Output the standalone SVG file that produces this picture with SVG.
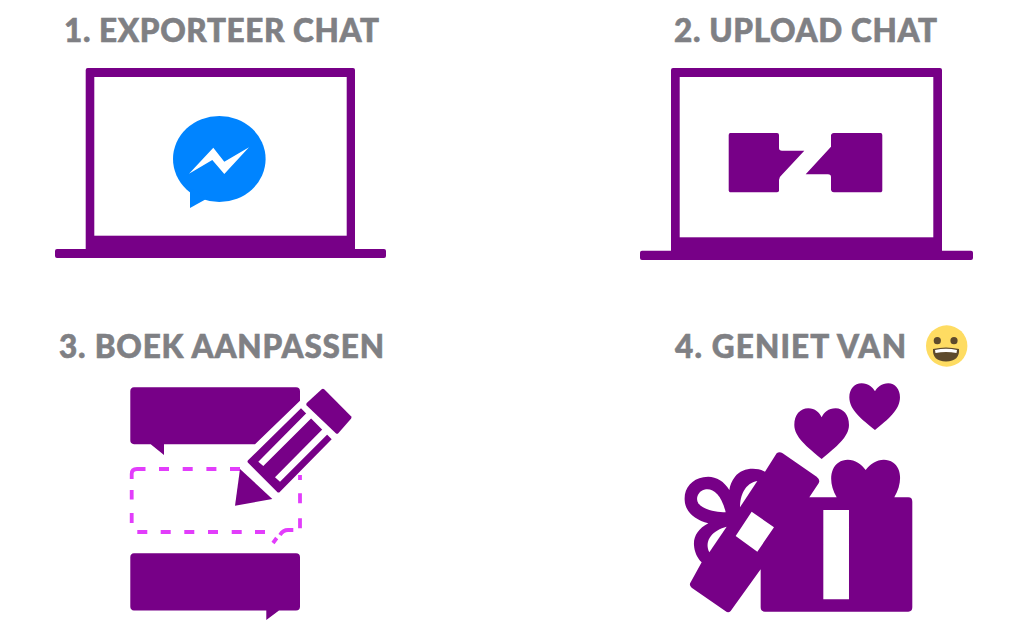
<svg xmlns="http://www.w3.org/2000/svg" width="1030" height="627" viewBox="0 0 1030 627">
<style>
.t{font-family:Lato,"Liberation Sans",sans-serif;font-weight:900;font-size:31.500px;fill:#7f8084;stroke:#7f8084;stroke-width:.6}
.p{fill:#770087}
.w{fill:#fff}
.d{fill:none;stroke:#e23dfb;stroke-width:3.800}
</style>
<rect width="1030" height="627" fill="#fff"/>
<g id="step1">
<text class="t" x="64" y="42" textLength="315" lengthAdjust="spacing">1. EXPORTEER CHAT</text>
<path class="p" d="M85.700 70a2 2 0 0 1 2-2H353a2 2 0 0 1 2 2V249H384a2 2 0 0 1 2 2V256a2 2 0 0 1-2 2H57a2 2 0 0 1-2-2V251a2 2 0 0 1 2-2H85.700Z"/>
<rect class="w" x="94.300" y="77" width="252.400" height="158.700"/>
<ellipse cx="219.300" cy="159" rx="46.300" ry="43" fill="#0084ff"/>
<path fill="#0084ff" d="M190 188V208L208 198Z"/>
<path class="w" d="M189 173.700L213.300 147.700L224.300 161.700L249 147.300L224.300 174L212.300 160Z"/>
</g>
<g id="step2">
<text class="t" x="674" y="42" textLength="263" lengthAdjust="spacing">2. UPLOAD CHAT</text>
<path class="p" d="M671 70a2 2 0 0 1 2-2H940a2 2 0 0 1 2 2V250.700H971a2 2 0 0 1 2 2V258a2 2 0 0 1-2 2H642a2 2 0 0 1-2-2V252.700a2 2 0 0 1 2-2H671Z"/>
<rect class="w" x="679.700" y="77" width="253.600" height="160.300"/>
<path class="p" d="M731 133H777a2 2 0 0 1 2 2V148Q779 150.700 782 150.700H804.300L781.700 175Q779 177 779 180V190a2 2 0 0 1-2 2.300H731a2 2 0 0 1-2.300-2.300V135a2 2 0 0 1 2.300-2Z"/>
<path class="p" d="M880 133H834a3 3 0 0 0-3 2V146.700L805.700 174.300H828Q831 174.300 831 177V190a3 3 0 0 0 3 2.300H880a2 2 0 0 0 2.300-2.300V135a2 2 0 0 0-2.300-2Z"/>
</g>
<g id="step3">
<text class="t" x="59" y="358" textLength="325" lengthAdjust="spacing">3. BOEK AANPASSEN</text>
<path class="p" d="M134 387.300H296a4 4 0 0 1 4 4V400.700L255 444.300H164V455L150.700 444.300H134a4 4 0 0 1-3.700-4V391.300a4 4 0 0 1 3.700-4Z"/>
<path class="d" d="M131.700 479V474Q131.700 469 137 469H145.500M159 469H169M182.700 469H192.700M206.400 469H216.400M230 469H240M131.700 490V499.500M131.700 513V523M137.300 532H147.300M160.700 532H170.700M184.300 532H194.300M208 532H218M231.700 532H241.700M255 532H265M300 475V480M300 493.300V503.300M300 518.300V528.300M293.300 530H288Q283 530 280 535M276.700 538L273 543"/>
<path class="p" d="M240 469L272.300 499L235 505.700Z"/>
<path class="p" d="M321.700 389.300a2 2 0 0 1 2.500 0L351 416.300a2 2 0 0 1 0 2.500L338.300 433.300a2 2 0 0 1-2.500 0L306.700 405.500a2 2 0 0 1 0-2.500Z"/>
<path class="p" d="M301 408.300L248.300 460a2 2 0 0 0 0 3L277 491.700a2 2 0 0 0 3 0L331.700 439.300Z"/>
<path class="w" d="M258.300 461.700L263.300 466L312.300 417.300L307.300 412.300ZM275 477.300L280 481.700L329 432.700L324 427.700Z"/>
<path class="p" d="M134 553.300H296a4 4 0 0 1 4 4V606.500a4 4 0 0 1-4 4H279L266.300 620V610.500H134a4 4 0 0 1-3.700-4V557.300a4 4 0 0 1 3.700-4Z"/>
</g>
<g id="step4">
<text class="t" x="675" y="358" textLength="231" lengthAdjust="spacing">4. GENIET VAN</text>
<g transform="translate(660 320) scale(.3333)">
<path class="p" d="M350 400Q358 394 368 400L470 470Q482 480 476 490L448 532H530C505 490 510 445 535 428C565 408 600 425 617 450C635 425 670 408 700 428C725 445 728 490 703 532H745Q757 532 757 545V862Q757 875 745 875H315Q302 875 302 862V748L212 873Q205 880 196 873L95 803Q86 795 92 787L125 727C112 715 103 695 102 675C100 650 115 625 145 610C105 600 75 575 74 540C72 505 95 478 130 472C160 465 190 480 208 510C210 495 215 483 225 470C245 445 285 440 315 455Z"/>
<path class="w" d="M490 570H567V838H490ZM275 575L342 622L292 695L227 648Z"/>
<path class="w" d="M197 577C185 525 160 505 138 508C115 512 105 535 115 550C130 570 170 577 197 577Z"/>
<path class="w" d="M240 562C240 525 255 490 292 483Z"/>
<path class="w" d="M200 620C160 630 130 660 148 697Z"/>
<path class="p" d="M485 417C440 380 403 350 403 315C403 285 420 265 445 265C465 265 478 278 485 292C492 278 505 265 527 265C550 265 567 285 567 315C567 350 530 380 485 417Z"/>
<path class="p" d="M645 330C605 298 568 270 568 232C568 208 583 190 605 190C625 190 638 202 645 214C652 202 665 190 685 190C705 190 720 208 720 232C720 270 685 298 645 330Z"/>
</g>
<circle cx="946.700" cy="346" r="20.700" fill="#fedc62"/>
<circle cx="937.300" cy="340.700" r="3.600" fill="#5d4a2c"/>
<circle cx="954" cy="340.700" r="3.600" fill="#5d4a2c"/>
<path fill="#5d4a2c" d="M933 349Q946 346 959 349Q960 361 946 361.500Q932 361 933 349Z"/>
<path fill="#fff" d="M935 350Q946 347.500 957 350L956.500 353Q946 351 935.500 353Z"/>
</g>
</svg>
